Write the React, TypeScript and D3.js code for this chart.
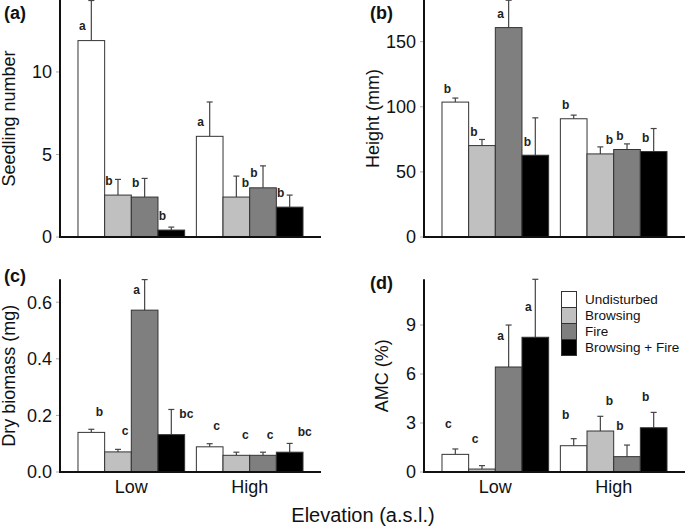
import React from "react";
import * as d3 from "d3";

const categories = ["Low", "High"];
const treatments = ["Undisturbed", "Browsing", "Fire", "Browsing + Fire"];
const fills = ["#ffffff", "#c0c0c0", "#7f7f7f", "#000000"];

const seedlingMean = [[11.9, 2.54, 2.42, 0.42], [6.1, 2.42, 2.98, 1.81]];
const seedlingSE = [[2.43, 0.95, 1.13, 0.18], [2.08, 1.27, 1.33, 0.73]];
const seedlingLetters = [["a", "b", "b", "b"], ["a", "b", "b", "b"]];
const seedlingTicks = [0, 5, 10];

const heightMean = [[103.6, 70.2, 160.8, 62.8], [90.8, 63.8, 67.2, 65.6]];
const heightSE = [[3.1, 4.7, 21, 28.7], [2.8, 5.4, 4.3, 17.7]];
const heightLetters = [["b", "b", "a", "b"], ["b", "b", "b", "b"]];
const heightTicks = [0, 50, 100, 150];

const biomassMean = [[0.14, 0.071, 0.572, 0.132], [0.089, 0.059, 0.059, 0.07]];
const biomassSE = [[0.011, 0.009, 0.108, 0.089], [0.011, 0.011, 0.011, 0.031]];
const biomassLetters = [["b", "c", "a", "bc"], ["c", "c", "c", "bc"]];
const biomassTicks = [0, 0.2, 0.4, 0.6];

const amcMean = [[1.08, 0.18, 6.43, 8.25], [1.61, 2.51, 0.94, 2.71]];
const amcSE = [[0.33, 0.21, 2.57, 3.55], [0.43, 0.9, 0.71, 0.94]];
const amcLetters = [["c", "c", "a", "a"], ["b", "b", "b", "b"]];
const amcTicks = [0, 3, 6, 9];

const FONT = "'Liberation Sans', Arial, Helvetica, sans-serif";

const panels = [
  {
    label: "(a)", title: "Seedling number", axisX: 60, base: 237, top: 0, max: 14.36,
    ticks: seedlingTicks, fmt: d3.format("d"), means: seedlingMean, ses: seedlingSE,
    letters: seedlingLetters, letterDx: [[-9, -9, -9, -9], [-9, 9, -9, -9]], letterDy: 15,
    labelX: 4, labelY: 19, titleX: 15, showX: false,
  },
  {
    label: "(b)", title: "Height (mm)", axisX: 424, base: 237, top: 0, max: 182,
    ticks: heightTicks, fmt: d3.format("d"), means: heightMean, ses: heightSE,
    letters: heightLetters, letterDx: [[-8, -8, -8, -8], [-8, 9, -7, -8]], letterDy: 14,
    labelX: 370, labelY: 19, titleX: 379, showX: false,
  },
  {
    label: "(c)", title: "Dry biomass (mg)", axisX: 60, base: 472, top: 279.3, max: 0.681,
    ticks: biomassTicks, fmt: d3.format(".1f"), means: biomassMean, ses: biomassSE,
    letters: biomassLetters, letterDx: [[8, 7, -8, 15], [7, 9, 7, 15]], letterDy: 21,
    labelX: 4, labelY: 282, titleX: 15, showX: true,
  },
  {
    label: "(d)", title: "AMC (%)", axisX: 424, base: 472, top: 279.3, max: 11.8,
    ticks: amcTicks, fmt: d3.format("d"), means: amcMean, ses: amcSE,
    letters: amcLetters, letterDx: [[-7, -7, -8, -7], [-8, 9, -7, -8]], letterDy: 31,
    labelX: 370, labelY: 289, titleX: 388, showX: true,
  },
];

const AXIS_LEN = 261;

function Panel({ p }: { p: any }) {
  const y = d3.scaleLinear().domain([0, p.max]).range([p.base, p.top]);
  const xg = d3.scaleBand<string>().domain(categories).range([p.axisX, p.axisX + AXIS_LEN])
    .paddingInner(0.099).paddingOuter(0.152);
  const xt = d3.scaleBand<string>().domain(treatments).range([0, xg.bandwidth()]).padding(0);
  const bw = xt.bandwidth();
  return (
    <g>
      {categories.map((c, ci) =>
        treatments.map((t, ti) => {
          const m = p.means[ci][ti];
          const se = p.ses[ci][ti];
          const x = (xg(c) as number) + (xt(t) as number);
          const cx = x + bw / 2;
          const yTop = y(m);
          const yErr = y(m + se);
          return (
            <g key={c + t}>
              <line x1={cx} x2={cx} y1={yTop} y2={yErr} stroke="#444" strokeWidth={1.2} />
              <line x1={cx - 3} x2={cx + 3} y1={yErr} y2={yErr} stroke="#444" strokeWidth={1.2} />
              <rect x={x} y={yTop} width={bw} height={p.base - yTop} fill={fills[ti]}
                stroke="#333" strokeWidth={1} />
              <text x={cx + p.letterDx[ci][ti]} y={yTop - p.letterDy + 4.5} textAnchor="middle"
                fontFamily={FONT} fontWeight="bold" fontSize={12} fill="#222">
                {p.letters[ci][ti]}
              </text>
            </g>
          );
        })
      )}
      {p.ticks.map((t: number) => (
        <g key={t}>
          <line x1={p.axisX - 4} x2={p.axisX} y1={y(t)} y2={y(t)} stroke="#aaa" strokeWidth={1} />
          <text x={p.axisX - 8} y={y(t)} dy="0.35em" textAnchor="end" fontFamily={FONT}
            fontSize={18} fill="#111">
            {p.fmt(t)}
          </text>
        </g>
      ))}
      <line x1={p.axisX} x2={p.axisX} y1={p.top} y2={p.base + 1} stroke="#111" strokeWidth={2} />
      <line x1={p.axisX} x2={p.axisX + AXIS_LEN} y1={p.base} y2={p.base} stroke="#111" strokeWidth={2} />
      {p.showX && categories.map((c) => (
        <text key={c} x={(xg(c) as number) + xg.bandwidth() / 2} y={493} textAnchor="middle"
          fontFamily={FONT} fontSize={18} fill="#111">{c}</text>
      ))}
      <text transform={`translate(${p.titleX},${(p.base + p.top) / 2}) rotate(-90)`} textAnchor="middle"
        fontFamily={FONT} fontSize={18} fill="#111">{p.title}</text>
      <text x={p.labelX} y={p.labelY} fontFamily={FONT} fontWeight="bold" fontSize={18} fill="#111">
        {p.label}
      </text>
    </g>
  );
}

export default function App() {
  const legendX = 561.5;
  const legendY = 291.5;
  return (
    <svg width={685} height={528} style={{ position: "absolute", left: 0, top: 0, background: "#fff" }}>
      <rect width={685} height={528} fill="#fff" />
      {panels.map((p) => <Panel key={p.label} p={p} />)}
      {treatments.map((t, i) => (
        <g key={t}>
          <rect x={legendX} y={legendY + i * 16} width={15} height={16} fill={fills[i]} stroke="#333" strokeWidth={1} />
          <text x={585} y={legendY + i * 16 + 8} dy="0.35em" fontFamily={FONT} fontSize={13.5} fill="#111">{t}</text>
        </g>
      ))}
      <text x={363} y={522} textAnchor="middle" fontFamily={FONT} fontSize={20} fill="#111">Elevation (a.s.l.)</text>
    </svg>
  );
}
